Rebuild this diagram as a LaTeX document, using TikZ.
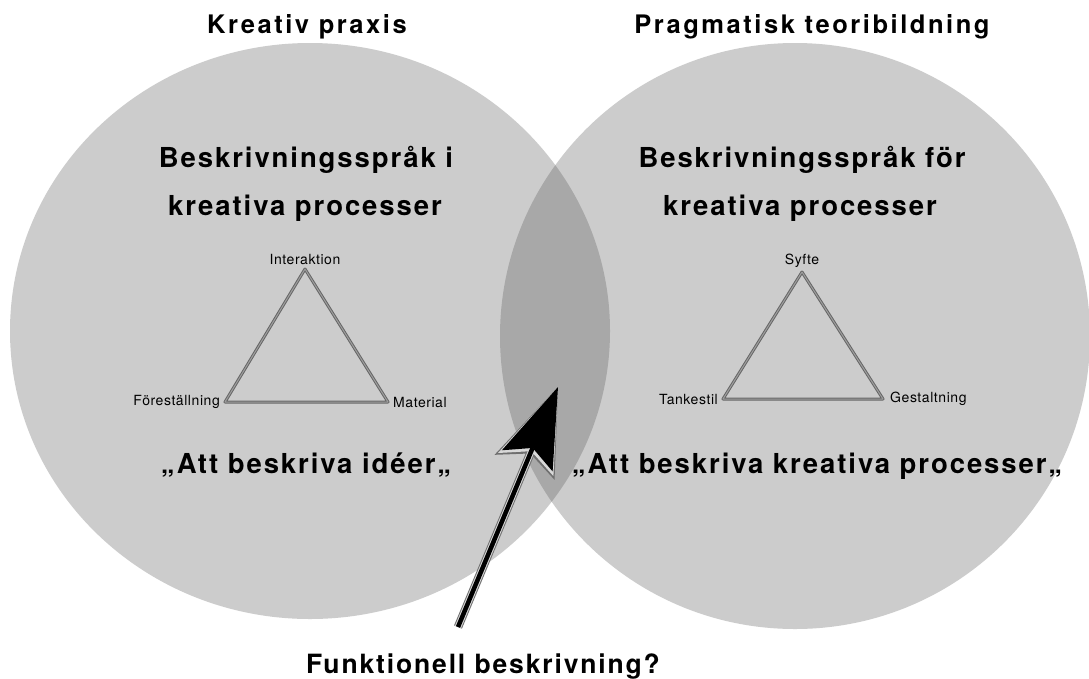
\documentclass[tikz,border=0pt]{standalone}
\usepackage{fontspec}
\setmainfont{TeX Gyre Heros}
\newfontfamily\titlefont[LetterSpace=10]{TeX Gyre Heros}
\newfontfamily\bodyfont[LetterSpace=7]{TeX Gyre Heros}
\newfontfamily\cornerfont[LetterSpace=4]{TeX Gyre Heros}
\usepackage{tikz}
\usetikzlibrary{arrows.meta, positioning}
\definecolor{venn}{HTML}{CCCCCC}
\definecolor{lens}{HTML}{A8A8A8}
\definecolor{rim}{HTML}{6F6F6F}

\begin{document}
\begin{tikzpicture}[x=1pt,y=-1pt,
  title/.style={font=\titlefont\bfseries\fontsize{25.5}{30}\selectfont, inner sep=0pt, anchor=base},
  heading/.style={font=\bodyfont\bfseries\fontsize{27.5}{32}\selectfont, inner sep=0pt, anchor=base},
  corner/.style={font=\cornerfont\fontsize{14}{16}\selectfont, inner sep=1pt},
  tri/.style={draw=black!60, line width=1pt, double=black!38, double distance=1pt, line join=round},
  arrowrim/.style={draw=rim, line width=8.5pt, -{Stealth[length=87pt, width=65pt, inset=15pt, line width=0pt]}},
  arrowgap/.style={draw=white!85!black, line width=6.5pt, -{Stealth[length=84pt, width=60pt, inset=14.5pt, line width=0pt]}},
  arrowbody/.style={draw=black, line width=4.5pt, -{Stealth[length=80pt, width=55pt, inset=14pt, line width=0pt]}}]
\useasboundingbox (0,0) rectangle (1089,678);
\fill[white] (0,0) rectangle (1089,678);

% the two circles and their overlap
\fill[venn] (310,331) ellipse [x radius=300, y radius=288];
\fill[venn] (795,336) ellipse [x radius=295, y radius=293];
\begin{scope}
  \clip (310,331) ellipse [x radius=300, y radius=288];
  \fill[lens] (795,336) ellipse [x radius=295, y radius=293];
\end{scope}

% titles
\node[title] (ltitle) at (307,33) {Kreativ praxis};
\node[title] (rtitle) at (812,33) {Pragmatisk teoribildning};

% left circle
\node[heading] (lhead1) at (306,167) {Beskrivningsspråk i};
\node[heading] (lhead2) at (305,215) {kreativa processer};
\node[heading] (lquote) at (306,473) {„Att beskriva idéer„};

\coordinate (ltop) at (305,269);
\coordinate (lleft) at (225,402);
\coordinate (lright) at (388,402);
\draw[tri] (ltop) -- (lright) -- (lleft) -- cycle;
\node[corner, above=3pt of ltop] (interaktion) {Interaktion};
\node[corner, left=4pt of lleft] (forestallning) {Föreställning};
\node[corner, right=4pt of lright] (material) {Material};

% right circle
\node[heading] (rhead1) at (802,167) {Beskrivningsspråk för};
\node[heading] (rhead2) at (800,215) {kreativa processer};
\node[heading] (rquote) at (817,473) {„Att beskriva kreativa processer„};

\coordinate (rtop) at (802,272);
\coordinate (rleft) at (723,399);
\coordinate (rright) at (883,399);
\draw[tri] (rtop) -- (rright) -- (rleft) -- cycle;
\node[corner, above=3pt of rtop] (syfte) {Syfte};
\node[corner, left=4pt of rleft] (tankestil) {Tankestil};
\node[corner, right=6pt of rright] (gestaltning) {Gestaltning};

% question and arrow into the overlap
\node[title, font=\bodyfont\bfseries\fontsize{26.5}{30}\selectfont] (question) at (483,673) {Funktionell beskrivning?};
\coordinate (tail) at (458,627);
\coordinate (tip) at (558,387);
\draw[arrowrim] (tail) -- (tip);
\draw[arrowgap] (tail) -- (tip);
\draw[arrowbody] (tail) -- (tip);
\end{tikzpicture}
\end{document}
